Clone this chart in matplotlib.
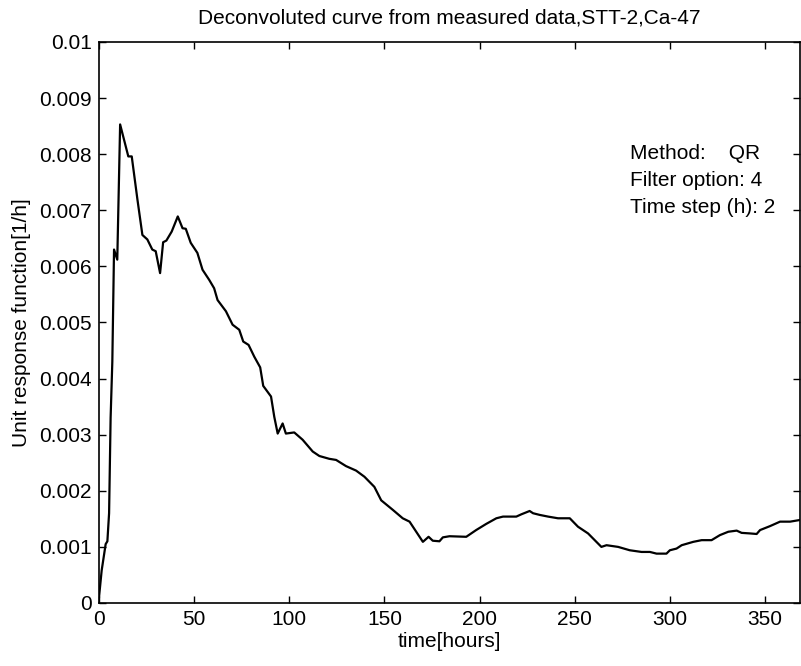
import numpy as np
import matplotlib.pyplot as plt

plt.rcParams['font.family'] = ['Liberation Sans', 'DejaVu Sans']

# points (hours, 1/h)
hours = [0, 1.4, 3.5, 4.4, 5.3, 6.1, 7.0, 7.9, 9.6, 11.1, 15.4, 17.2, 20.2, 22.8,
         25.4, 28.0, 29.8, 32.1, 33.7, 35.4, 38.2, 41.4, 43.9, 45.6, 48.2, 51.7,
         54.4, 57.9, 60.5, 62.3, 66.7, 70.2, 73.7, 75.8, 78.6, 81.6, 84.7, 86.3,
         90.4, 92.1, 93.9, 96.5, 98.2, 102.6, 107.0, 112.3, 115.8, 121.0, 124.6,
         129.8, 135.1, 139.5, 144.7, 148.3, 154.4, 159.6, 163.2, 166.7, 170.2,
         173.2, 175.4, 178.9, 180.7, 184.2, 193.0, 198.2, 203.5, 208.8, 212.3,
         219.3, 221.9, 226.3, 228.1, 231.6, 236.0, 241.2, 247.4, 251.7, 257.0,
         264.0, 266.7, 272.8, 278.9, 285.1, 289.5, 293.0, 298.2, 300.0, 303.5,
         306.2, 312.3, 316.7, 321.9, 326.3, 330.7, 335.1, 337.7, 342.1, 345.6,
         347.4, 352.6, 357.9, 363.2, 368.4]
response = [0.0001, 0.00058, 0.00105, 0.0011, 0.0016, 0.0033, 0.0043, 0.0063,
            0.00612, 0.00853, 0.00796, 0.00796, 0.00719, 0.00656, 0.00648, 0.0063,
            0.00627, 0.00588, 0.00643, 0.00646, 0.00662, 0.00689, 0.00668, 0.00667,
            0.00642, 0.00624, 0.00594, 0.00576, 0.00561, 0.0054, 0.0052, 0.00496,
            0.00487, 0.00466, 0.0046, 0.00439, 0.0042, 0.00387, 0.00368, 0.00332,
            0.00302, 0.0032, 0.00302, 0.00304, 0.00291, 0.0027, 0.00262, 0.00257,
            0.00255, 0.00244, 0.00236, 0.00225, 0.00207, 0.00183, 0.00166, 0.00151,
            0.00145, 0.00127, 0.00109, 0.00118, 0.00111, 0.0011, 0.00117, 0.00119,
            0.00118, 0.0013, 0.00141, 0.00151, 0.00154, 0.00154, 0.00158, 0.00164,
            0.0016, 0.00157, 0.00154, 0.00151, 0.00151, 0.00136, 0.00124, 0.001,
            0.00103, 0.001, 0.00094, 0.00091, 0.00091, 0.00088, 0.00088, 0.00094,
            0.00097, 0.00103, 0.00109, 0.00112, 0.00112, 0.00121, 0.00127, 0.00129,
            0.00125, 0.00124, 0.00123, 0.0013, 0.00137, 0.00145, 0.00145, 0.00148]

xticks = [0, 50, 100, 150, 200, 250, 300, 350]
yticks = [0, 0.001, 0.002, 0.003, 0.004, 0.005, 0.006, 0.007, 0.008, 0.009, 0.01]
ytick_labels = ['0', '0.001', '0.002', '0.003', '0.004', '0.005', '0.006',
                '0.007', '0.008', '0.009', '0.01']
info_lines = ['Method:    QR', 'Filter option: 4', 'Time step (h): 2']

fs = 15
fig = plt.figure(figsize=(8.01, 6.66), dpi=100)
ax = fig.add_axes([0.1236, 0.0946, 0.8752, 0.8424])
ax.plot(hours, response, color='black', lw=1.6)

ax.set_xlim(0, 368.4)
ax.set_ylim(0, 0.01)
ax.set_xticks(xticks)
ax.set_yticks(yticks)
ax.set_yticklabels(ytick_labels)
ax.tick_params(direction='in', top=True, right=True, labelsize=fs, length=5, width=1, pad=5)
for s in ax.spines.values():
    s.set_linewidth(1.2)

ax.set_xlabel('time[hours]', fontsize=fs, labelpad=2)
ax.set_ylabel('Unit response function[1/h]', fontsize=fs, labelpad=6)
ax.set_title('Deconvoluted curve from measured data,STT-2,Ca-47', fontsize=fs, pad=13)

for i, line in enumerate(info_lines):
    ax.text(279, 0.00792 - i * 0.000482, line, fontsize=fs, va='baseline')

fig.savefig('out.png', dpi=100)
